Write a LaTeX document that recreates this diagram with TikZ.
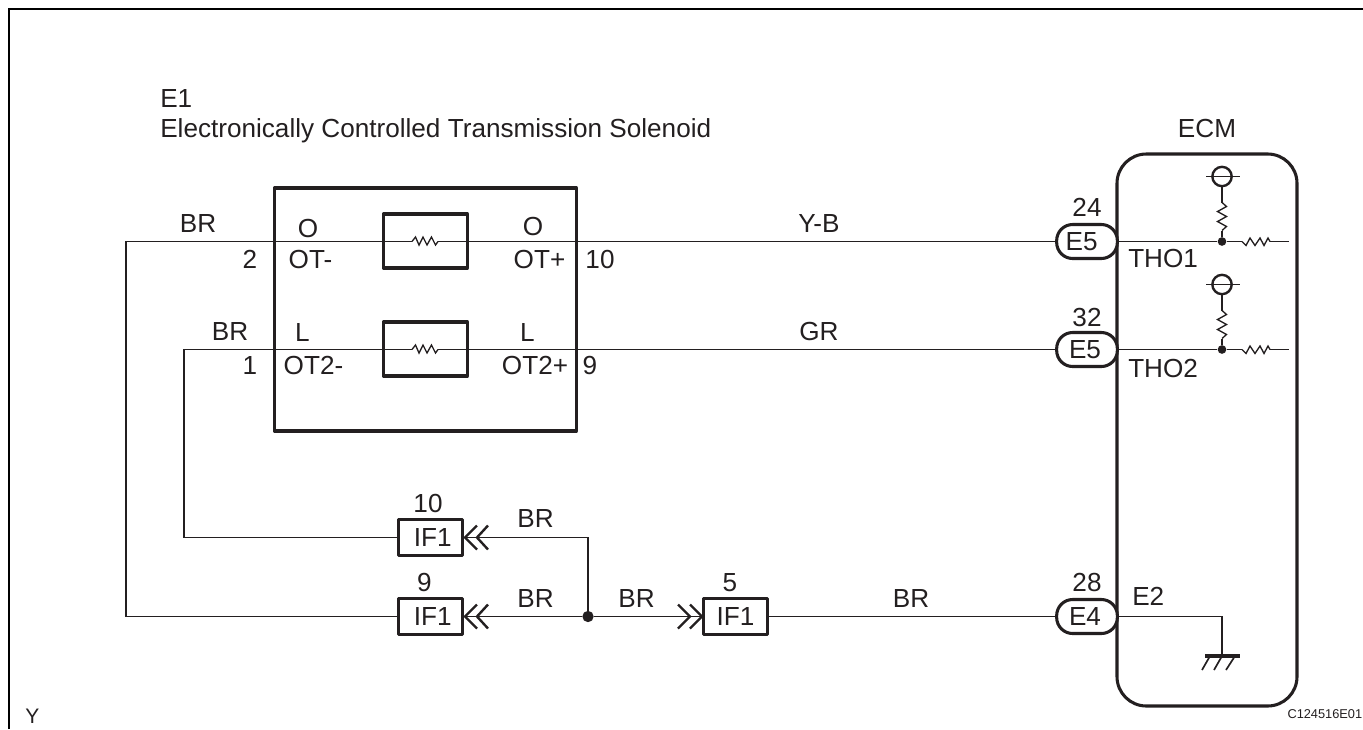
\documentclass[tikz,border=0pt]{standalone}
\usepackage{fontspec}
\setmainfont{Liberation Sans}
\definecolor{ink}{HTML}{231F20}
\newcommand{\lblfont}{\fontsize{19.6}{22}\selectfont}
\tikzset{
  wire/.style={draw=ink,line width=1.25pt},
  thin wire/.style={draw=ink,line width=1pt},
  heavy/.style={draw=ink,line width=2.3pt,line join=round},
  lbl/.style={inner sep=0pt,text=ink,anchor=base,font=\lblfont},
  lblw/.style={lbl,anchor=base west},
  pill/.style={heavy,fill=white,rounded corners=12pt,minimum width=45.5pt,minimum height=25.5pt,inner sep=0pt,text=ink,font=\lblfont},
  ifbox/.style={heavy,fill=white,minimum width=48pt,minimum height=27pt,inner sep=0pt,text=ink,font=\lblfont},
  dot/.style={circle,fill=ink,inner sep=0pt},
  chev/.style={draw=ink,line width=1.8pt,line join=miter},
}
\begin{document}
\begin{tikzpicture}[x=0.75pt,y=-0.75pt]
\useasboundingbox (0,0) rectangle (1363,729);
% frame
\coordinate (fa) at (9,729);
\coordinate (fb) at (9,9);
\coordinate (fc) at (1363,9);
\draw[draw=black,line width=2pt,line join=miter] (fa) -- (fb) -- (fc);
% solenoid box
\node[heavy,minimum width=226.5pt,minimum height=182.25pt,inner sep=0pt] (sol) at (425.5,309.5) {};
\node[heavy,minimum width=63pt,minimum height=40.5pt,inner sep=0pt] (ra) at (425.5,241) {};
\node[heavy,minimum width=63pt,minimum height=40.5pt,inner sep=0pt] (rb) at (425.5,349) {};
% ECM
\node[heavy,rounded corners=22pt,minimum width=135pt,minimum height=414pt,inner sep=0pt] (ecm) at (1207,430) {};
% connectors
\node[pill] (p1) at (1087,241.5) {\raisebox{-0.5pt}{\kern-8pt E5}};
\node[pill] (p2) at (1087,349.5) {\raisebox{-0.5pt}{\kern-3pt E5}};
\node[pill] (p3) at (1087,616.5) {\raisebox{-0.5pt}{\kern-3pt E4}};
\node[ifbox] (i1) at (430.5,537.5) {\raisebox{-3pt}{\kern3.5pt IF1}};
\node[ifbox] (i2) at (430.5,616.5) {\raisebox{-3pt}{\kern3.5pt IF1}};
\node[ifbox] (i3) at (735.5,616.5) {\raisebox{-3pt}{IF1}};
\node[dot,minimum size=8.5pt] (j) at (588,616.5) {};
\node[dot,minimum size=6.5pt] (ja) at (1222,241.5) {};
\node[dot,minimum size=6.5pt] (jb) at (1222,349.5) {};
\coordinate (w1) at (126,241.5);
\coordinate (w2) at (184,349.5);
\coordinate (w3) at (588,537.5);
% wires
\draw[wire] (i2.west) -- (126,616.5) -- (w1) -- (412,241.5);
\draw[wire] (i1.west) -- (184,537.5) -- (w2) -- (412,349.5);
\draw[wire] (438,241.5) -- (p1.west);
\draw[wire] (438,349.5) -- (p2.west);
\draw[wire] (i1.east) -- (w3) -- (j);
\draw[wire] (i2.east) -- (j);
\draw[wire] (j) -- (i3.west);
\draw[wire] (i3.east) -- (p3.west);
% resistors on solenoid
\foreach \yy in {241.5,349.5}{
  \draw[thin wire] (412,\yy) -- (415.5,\yy-4.5) -- (419,\yy+3.5) -- (423,\yy-4.5) -- (427,\yy+3.5) -- (431.5,\yy-4.5) -- (435.5,\yy+3.5) -- (438,\yy);
}
% ECM internals
\coordinate (e1) at (1289,241.5);
\coordinate (e2) at (1289,349.5);
\draw[wire] (p1.east) -- (ja) -- (1242,241.5);
\draw[wire] (p2.east) -- (jb) -- (1242,349.5);
\draw[wire] (1270,241.5) -- (e1);
\draw[wire] (1270,349.5) -- (e2);
\foreach \yy in {241.5,349.5}{
  \draw[thin wire] (1242,\yy) -- (1246,\yy+4) -- (1250,\yy-3.5) -- (1255,\yy+4) -- (1260,\yy-3.5) -- (1264,\yy+4) -- (1268,\yy-3.5) -- (1270,\yy);
}
\foreach \yy/\n in {241.5/a,349.5/b}{
  \node[draw=ink,line width=1.8pt,circle,minimum size=14.5pt,inner sep=0pt] (c\n) at (1222,\yy-65) {};
  \draw[wire] (1206,\yy-65) -- (1240,\yy-65);
  \draw[wire] (c\n.south) -- (1222,\yy-39);
  \draw[thin wire] (1222,\yy-39) -- (1226.5,\yy-35) -- (1217.5,\yy-30) -- (1226.5,\yy-25) -- (1217.5,\yy-20) -- (1226.5,\yy-15) -- (1222,\yy-11);
  \draw[wire] (1222,\yy-11) -- (j\n);
}
% ground
\coordinate (g) at (1222,656);
\draw[wire] (p3.east) -- (1222,616.5) -- (g);
\draw[draw=ink,line width=2.3pt] (1205,656) -- (1240,656);
\draw[wire] (1210,656) -- (1202,670);
\draw[wire] (1222,656) -- (1214,670);
\draw[wire] (1235,656) -- (1226,670);
% chevrons
\foreach \yy in {537.5,616.5}{
  \draw[chev] (477,\yy-12) -- (465,\yy) -- (477,\yy+12);
  \draw[chev] (488,\yy-12) -- (477,\yy) -- (488,\yy+12);
}
\draw[chev] (678,604.5) -- (690,616.5) -- (678,628.5);
\draw[chev] (690,604.5) -- (702,616.5) -- (690,628.5);
% labels
\node[lblw] (t1) at (160,107) {E1};
\node[lblw] (t2) at (160,137) {Electronically Controlled Transmission Solenoid};
\node[lbl] (tecm) at (1207,137) {ECM};
\node[lbl] at (198,232) {BR};
\node[lbl] at (230,340) {BR};
\node[lbl] at (250,268) {2};
\node[lbl] at (250,374) {1};
\node[lbl] at (308,237) {O};
\node[lbl] at (533,235) {O};
\node[lbl] at (302.5,341) {L};
\node[lbl] at (527.5,341) {L};
\node[lbl] at (310.5,268) {OT-};
\node[lbl] at (539.5,268) {OT+};
\node[lbl] at (313.5,374) {OT2-};
\node[lbl] at (535,374) {OT2+};
\node[lbl] at (600,268) {10};
\node[lbl] at (590,374) {9};
\node[lbl] at (819,232) {Y-B};
\node[lbl] at (819,340) {GR};
\node[lbl] at (1087,216) {24};
\node[lbl] at (1087,326) {32};
\node[lbl] at (1087,591) {28};
\node[lblw] at (1128,267) {THO1};
\node[lblw] at (1128,377) {THO2};
\node[lblw] at (1132,605) {E2};
\node[lbl] at (428,512) {10};
\node[lbl] at (424.5,591) {9};
\node[lbl] at (730,591) {5};
\node[lbl] at (535.5,527) {BR};
\node[lbl] at (535.5,607) {BR};
\node[lbl] at (636.5,607) {BR};
\node[lbl] at (911,607) {BR};
\node[lblw,font=\fontsize{15.75}{18}\selectfont] at (25,723) {Y};
\node[lbl,anchor=base east,font=\fontsize{9.6}{11}\selectfont] at (1362.5,718) {C124516E01};
\end{tikzpicture}
\end{document}
